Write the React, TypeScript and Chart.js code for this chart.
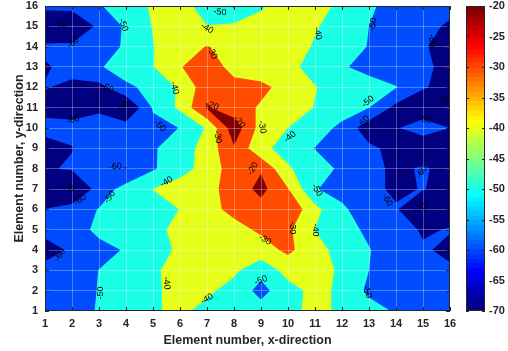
import React, { useEffect, useRef } from 'react';
import { Chart, registerables } from 'chart.js';

Chart.register(...registerables);

// grid coordinates (element numbers)
const xValues = [1, 2, 3, 4, 5, 6, 7, 8, 9, 10, 11, 12, 13, 14, 15, 16];
const yValues = [1, 2, 3, 4, 5, 6, 7, 8, 9, 10, 11, 12, 13, 14, 15, 16];

// field values, one row per y element (row1 = y 1), columns x 1..16
const row1 = [-57, -55, -49, -45, -41, -38, -43, -45, -46, -43, -37, -42, -46, -51, -56, -57];
const row2 = [-57, -55, -49.5, -45, -42, -36, -38, -44, -53, -44, -37, -42, -52, -56, -57, -57];
const row3 = [-57, -56, -49.8, -45, -42, -35, -34, -38, -47, -36, -35, -42, -50, -56, -57, -58.7];
const row4 = [-64, -58.5, -54, -49, -45, -38, -35, -33, -34, -28, -36, -44, -49.5, -56, -59, -62];
const row5 = [-57, -56, -47, -45, -43, -37, -35, -33, -28.5, -28, -40.2, -46, -52, -56, -61, -59.5];
const row6 = [-59.8, -56, -49.5, -45, -44, -39.8, -33, -27.5, -24, -22, -37, -48.5, -55, -59, -70.5, -64];
const row7 = [-68, -71, -56, -46, -39.8, -35, -33, -26, -17, -29.5, -49.5, -53, -57, -62, -59.5, -64];
const row8 = [-61, -59, -57, -60.5, -51, -44, -36, -25, -21, -39, -45, -52, -57, -62, -59, -63];
const row9 = [-64, -60.3, -55, -55, -51, -45, -36, -21, -38, -43, -50.3, -56, -58, -63, -65, -63];
const row10 = [-57, -58, -55, -55, -53, -49.8, -39, -14, -34, -40, -45, -52.5, -66, -60.5, -57, -60];
const row11 = [-63, -63, -62, -71, -49, -38, -19, -26, -31, -34, -40.5, -45, -50, -63, -64, -71];
const row12 = [-59.5, -62, -63, -52, -47, -38.5, -24, -27, -28, -33, -39.5, -45, -46, -49.5, -59.5, -62];
const row13 = [-61, -57, -51, -45, -40.3, -30.5, -25, -33, -35, -37, -44, -49, -53, -56, -58, -63];
const row14 = [-58, -58, -55, -48.6, -40.3, -35, -29.5, -34, -36, -35, -41, -45, -50.5, -55, -59, -64];
const row15 = [-71, -69, -58, -48.5, -39.5, -35, -39.5, -38, -37, -35, -39, -45, -50, -55, -58, -61];
const row16 = [-57, -57, -51, -44, -39, -33, -48, -51, -41, -36, -35, -43, -48, -55, -57, -58];
const zRows = [row1, row2, row3, row4, row5, row6, row7, row8, row9, row10, row11, row12, row13, row14, row15, row16];

// contour levels and colour-bar ticks
const levels = [-70, -60, -50, -40, -30, -20];
const cMin = -70;
const cMax = -20;
const colorbarTicks = [-70, -65, -60, -55, -50, -45, -40, -35, -30, -25, -20];

// inline contour labels
const labelText = ['-70', '-60', '-50', '-50', '-40', '-30', '-40', '-60', '-70', '-60', '-50', '-20', '-20', '-30', '-60', '-70', '-60', '-50', '-40', '-60', '-50', '-40', '-40', '-50', '-30', '-30', '-40', '-50', '-20', '-30', '-40', '-40', '-50', '-60', '-50', '-60', '-60', '-70', '-60', '-60', '-70', '-50'];
const labelX = [1.56, 2.04, 3.9, 7.48, 7.0, 7.19, 5.8, 3.3, 3.9, 2.04, 5.26, 7.19, 8.2, 7.4, 3.6, 1.85, 2.3, 3.4, 5.5, 1.56, 3.04, 5.5, 7.0, 9.0, 9.15, 10.15, 11.0, 11.07, 8.7, 9.04, 10.07, 11.1, 13.15, 15.33, 12.96, 12.8, 15.07, 15.74, 14.96, 13.67, 14.9, 12.93];
const labelY = [15.1, 14.2, 15.07, 15.7, 14.9, 13.7, 11.97, 11.97, 11.0, 10.4, 10.1, 11.1, 10.3, 9.56, 8.1, 7.1, 6.46, 6.6, 7.35, 3.75, 1.88, 2.38, 1.6, 2.5, 4.5, 5.1, 4.98, 6.95, 8.0, 10.05, 9.56, 14.65, 15.1, 14.3, 11.3, 10.3, 10.4, 11.3, 7.85, 6.46, 6.06, 1.93];
const labelAngle = [10, -40, 70, 5, 30, 65, 75, 30, -50, -15, 40, 20, 50, 80, -5, 40, -35, -55, -30, -60, -90, 85, -30, -20, 30, 90, 90, 60, -60, 80, -40, 80, -80, 90, -40, -50, 10, -60, -60, 60, -20, 70];

function jet(t: number): [number, number, number] {
  const c = (v: number) => Math.max(0, Math.min(1, v));
  return [c(1.5 - Math.abs(4 * t - 3)), c(1.5 - Math.abs(4 * t - 2)), c(1.5 - Math.abs(4 * t - 1))];
}
function jetCss(t: number): string {
  const [r, g, b] = jet(t);
  return `rgb(${Math.round(r * 255)},${Math.round(g * 255)},${Math.round(b * 255)})`;
}
function levelColor(v: number): string {
  return jetCss((v - cMin) / (cMax - cMin));
}

const AXIS_COLOR = '#262626';
const FONT = "'Liberation Sans', Arial, Helvetica, sans-serif";

const contourPlugin = {
  id: 'contourFill',
  beforeDraw(chart: any) {
    const { ctx, chartArea, scales } = chart;
    const xs = scales.x;
    const ys = scales.y;
    ctx.save();
    ctx.beginPath();
    ctx.rect(chartArea.left, chartArea.top, chartArea.right - chartArea.left, chartArea.bottom - chartArea.top);
    ctx.clip();
    ctx.fillStyle = levelColor(levels[0]);
    ctx.fillRect(chartArea.left, chartArea.top, chartArea.right - chartArea.left, chartArea.bottom - chartArea.top);
    const nx = xValues.length;
    const ny = yValues.length;
    for (let li = 1; li < levels.length; li++) {
      const L = levels[li];
      ctx.beginPath();
      for (let j = 0; j < ny - 1; j++) {
        for (let i = 0; i < nx - 1; i++) {
          const corners = [[i, j], [i + 1, j], [i + 1, j + 1], [i, j + 1]];
          const pts: number[][] = [];
          for (let k = 0; k < 4; k++) {
            const [ai, aj] = corners[k];
            const [bi, bj] = corners[(k + 1) % 4];
            const va = zRows[aj][ai];
            const vb = zRows[bj][bi];
            const ina = va >= L;
            const inb = vb >= L;
            const xa = xValues[ai], ya = yValues[aj], xb = xValues[bi], yb = yValues[bj];
            if (ina) pts.push([xa, ya]);
            if (ina !== inb) {
              const t = (L - va) / (vb - va);
              pts.push([xa + t * (xb - xa), ya + t * (yb - ya)]);
            }
          }
          if (pts.length >= 3) {
            pts.forEach((p, idx) => {
              const px = xs.getPixelForValue(p[0]);
              const py = ys.getPixelForValue(p[1]);
              if (idx === 0) ctx.moveTo(px, py);
              else ctx.lineTo(px, py);
            });
            ctx.closePath();
          }
        }
      }
      ctx.fillStyle = levelColor(L);
      ctx.fill('nonzero');
    }
    ctx.restore();
  },
  afterDraw(chart: any) {
    const { ctx, chartArea, scales } = chart;
    const xs = scales.x;
    const ys = scales.y;
    const cb = scales.cb;
    const { left, right, top, bottom } = chartArea;

    // contour labels
    ctx.save();
    ctx.beginPath();
    ctx.rect(left, top, right - left, bottom - top);
    ctx.clip();
    ctx.fillStyle = '#000';
    ctx.font = `9px ${FONT}`;
    ctx.textAlign = 'center';
    ctx.textBaseline = 'middle';
    for (let k = 0; k < labelText.length; k++) {
      ctx.save();
      ctx.translate(xs.getPixelForValue(labelX[k]), ys.getPixelForValue(labelY[k]));
      ctx.rotate((labelAngle[k] * Math.PI) / 180);
      ctx.fillText(labelText[k], 0, 0);
      ctx.restore();
    }
    ctx.restore();

    // axes box and inward tick marks
    ctx.save();
    ctx.strokeStyle = AXIS_COLOR;
    ctx.lineWidth = 1;
    ctx.strokeRect(left + 0.5, top + 0.5, right - left - 1, bottom - top - 1);
    ctx.beginPath();
    const tl = 4;
    xValues.forEach((v) => {
      const px = Math.round(xs.getPixelForValue(v)) + 0.5;
      ctx.moveTo(px, bottom);
      ctx.lineTo(px, bottom - tl);
      ctx.moveTo(px, top);
      ctx.lineTo(px, top + tl);
    });
    yValues.forEach((v) => {
      const py = Math.round(ys.getPixelForValue(v)) + 0.5;
      ctx.moveTo(left, py);
      ctx.lineTo(left + tl, py);
      ctx.moveTo(right, py);
      ctx.lineTo(right - tl, py);
    });
    ctx.stroke();

    // colour bar
    const cbLeft = cb.left + 16;
    const cbWidth = 19;
    const cbTop = cb.getPixelForValue(cMax);
    const cbBottom = cb.getPixelForValue(cMin);
    const grad = ctx.createLinearGradient(0, cbBottom, 0, cbTop);
    const nSteps = 64;
    for (let s = 0; s < nSteps; s++) {
      const c = jetCss(s / (nSteps - 1));
      grad.addColorStop(s / nSteps, c);
      grad.addColorStop((s + 1) / nSteps, c);
    }
    ctx.fillStyle = grad;
    ctx.fillRect(cbLeft, cbTop, cbWidth, cbBottom - cbTop);
    ctx.strokeRect(cbLeft + 0.5, cbTop + 0.5, cbWidth - 1, cbBottom - cbTop - 1);
    ctx.beginPath();
    colorbarTicks.forEach((v) => {
      const py = Math.round(cb.getPixelForValue(v)) + 0.5;
      ctx.moveTo(cbLeft + cbWidth, py);
      ctx.lineTo(cbLeft + cbWidth - 3, py);
      ctx.moveTo(cbLeft, py);
      ctx.lineTo(cbLeft + 3, py);
    });
    ctx.stroke();
    ctx.restore();
  },
};

export default function App() {
  const canvasRef = useRef<HTMLCanvasElement | null>(null);

  useEffect(() => {
    if (!canvasRef.current) return;
    const points = yValues.flatMap((y) => xValues.map((x) => ({ x, y })));
    const tickFont = { family: FONT, size: 11, weight: 'bold' as const };
    const titleFont = { family: FONT, size: 12.5, weight: 'bold' as const };
    const chart = new Chart(canvasRef.current, {
      type: 'scatter',
      data: {
        datasets: [
          {
            data: points,
            pointRadius: 0,
            pointHoverRadius: 0,
          },
        ],
      },
      options: {
        animation: false,
        responsive: false,
        devicePixelRatio: 1,
        layout: { padding: { left: 0, right: 0, top: 6, bottom: 0 } },
        plugins: { legend: { display: false }, tooltip: { enabled: false } },
        events: [],
        scales: {
          x: {
            type: 'linear',
            min: 1,
            max: 16,
            afterFit: (s: any) => {
              s.height = 40;
              s.paddingLeft = 0;
              s.paddingRight = 0;
            },
            ticks: { stepSize: 1, autoSkip: false, maxRotation: 0, padding: 6, color: AXIS_COLOR, font: tickFont },
            grid: { color: 'rgba(255,255,255,0.3)', drawTicks: false },
            border: { display: false },
            title: {
              display: true,
              text: 'Element number, x-direction',
              color: AXIS_COLOR,
              font: titleFont,
              padding: { top: 0, bottom: 3 },
            },
          },
          y: {
            type: 'linear',
            min: 1,
            max: 16,
            afterFit: (s: any) => {
              s.width = 45;
              s.paddingTop = 0;
              s.paddingBottom = 0;
            },
            ticks: { stepSize: 1, autoSkip: false, padding: 0, color: AXIS_COLOR, font: tickFont },
            grid: { color: 'rgba(255,255,255,0.3)', drawTicks: true, tickLength: 7 },
            border: { display: false },
            title: {
              display: true,
              text: 'Element number, y-direction',
              color: AXIS_COLOR,
              font: titleFont,
              padding: { top: 12, bottom: 0 },
            },
          },
          cb: {
            type: 'linear',
            position: 'right',
            min: cMin,
            max: cMax,
            afterFit: (s: any) => {
              s.width = 58;
              s.paddingTop = 0;
              s.paddingBottom = 0;
            },
            afterBuildTicks: (s: any) => {
              s.ticks = colorbarTicks.map((v) => ({ value: v }));
            },
            ticks: { padding: 4, color: AXIS_COLOR, font: tickFont },
            grid: { display: true, drawOnChartArea: false, drawTicks: true, tickLength: 35, color: 'rgba(0,0,0,0)' },
            border: { display: false },
          },
        },
      },
      plugins: [contourPlugin],
    });
    return () => chart.destroy();
  }, []);

  return (
    <div style={{ position: 'absolute', left: 0, top: 0, width: 508, height: 351, background: '#fff' }}>
      <canvas ref={canvasRef} width={508} height={351} style={{ width: 508, height: 351, display: 'block' }} />
    </div>
  );
}
